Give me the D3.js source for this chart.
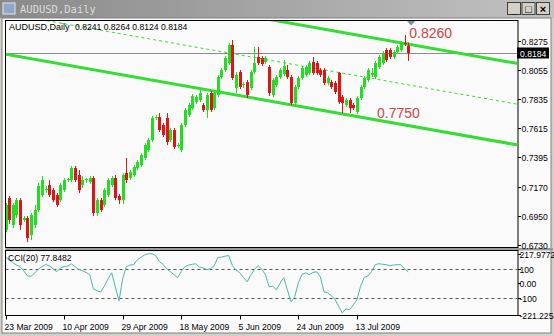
<!DOCTYPE html>
<html>
<head>
<meta charset="utf-8">
<script src="https://cdn.jsdelivr.net/npm/d3@7"></script>
<style>
body { margin: 0; background: #d4d0c8; }
svg { display: block; }
</style>
</head>
<body>
<div id="chart"></div>
<script>
// AUDUSD daily bars, 23 Mar 2009 onwards
const opens = [0.6843,0.7086,0.6881,0.6957,0.7070,0.6919,0.6934,0.6805,0.6881,0.6995,
  0.7108,0.7146,0.7184,0.7146,0.7108,0.7070,0.7146,0.7222,0.7222,0.7313,
  0.7260,0.7184,0.7222,0.7207,0.7237,0.6972,0.7070,0.7033,0.7108,0.7184,
  0.7237,0.7101,0.7070,0.7276,0.7237,0.7260,0.7313,0.7336,0.7389,0.7449,
  0.7525,0.7692,0.7699,0.7639,0.7692,0.7525,0.7601,0.7479,0.7449,0.7639,
  0.7714,0.7767,0.7813,0.7828,0.7790,0.7752,0.7881,0.7767,0.7866,0.8002,
  0.8055,0.8108,0.8245,0.7919,0.8040,0.7942,0.7964,0.7919,0.8040,0.8154,
  0.8146,0.8116,0.8078,0.7866,0.7942,0.8002,0.8025,0.8055,0.8002,0.7805,
  0.7927,0.7995,0.8018,0.8033,0.8116,0.8108,0.8055,0.8055,0.7957,0.7964,
  0.7957,0.8033,0.7851,0.7790,0.7828,0.7790,0.7737,0.7843,0.7927,0.7980,
  0.8018,0.8002,0.8078,0.8108,0.8207,0.8207,0.8154,0.8192,0.8207,0.8260,
  0.8241];
const highs = [0.7048,0.7101,0.7048,0.7086,0.7086,0.6949,0.6949,0.6972,0.7033,0.7200,
  0.7253,0.7177,0.7222,0.7161,0.7123,0.7200,0.7237,0.7237,0.7328,0.7328,
  0.7298,0.7253,0.7237,0.7253,0.7253,0.7086,0.7086,0.7161,0.7237,0.7253,
  0.7260,0.7116,0.7276,0.7389,0.7298,0.7336,0.7374,0.7426,0.7502,0.7540,
  0.7707,0.7714,0.7729,0.7654,0.7729,0.7616,0.7616,0.7502,0.7654,0.7767,
  0.7805,0.7873,0.7866,0.7904,0.7805,0.7881,0.7896,0.7904,0.8018,0.8070,
  0.8161,0.8260,0.8283,0.8040,0.8055,0.7964,0.7980,0.8055,0.8230,0.8230,
  0.8161,0.8161,0.8093,0.7995,0.8018,0.8070,0.8131,0.8093,0.8018,0.7942,
  0.8010,0.8086,0.8093,0.8124,0.8154,0.8124,0.8070,0.8070,0.8010,0.7980,
  0.7972,0.8040,0.7866,0.7843,0.7843,0.7805,0.7858,0.7942,0.8010,0.8070,
  0.8070,0.8124,0.8169,0.8199,0.8222,0.8222,0.8207,0.8245,0.8275,0.8320,
  0.8264];
const lows = [0.6828,0.6889,0.6858,0.6934,0.6843,0.6904,0.6752,0.6767,0.6858,0.6980,
  0.7093,0.7123,0.7093,0.7055,0.7017,0.7055,0.7131,0.7207,0.7207,0.7207,
  0.7123,0.7161,0.7200,0.7192,0.6949,0.6949,0.6980,0.7017,0.7093,0.7169,
  0.7070,0.7040,0.7040,0.7200,0.7222,0.7245,0.7298,0.7321,0.7374,0.7434,
  0.7510,0.7676,0.7586,0.7548,0.7487,0.7510,0.7457,0.7464,0.7434,0.7623,
  0.7699,0.7752,0.7798,0.7813,0.7737,0.7692,0.7737,0.7752,0.7851,0.7987,
  0.8040,0.8093,0.7980,0.7881,0.7911,0.7919,0.7843,0.7904,0.8025,0.8093,
  0.8086,0.8101,0.7858,0.7851,0.7927,0.7987,0.8010,0.7987,0.7790,0.7783,
  0.7911,0.7980,0.8002,0.8018,0.8018,0.8018,0.8002,0.7942,0.7942,0.7911,
  0.7873,0.7798,0.7729,0.7775,0.7729,0.7752,0.7722,0.7828,0.7911,0.7964,
  0.8002,0.7987,0.8063,0.8093,0.8116,0.8139,0.8139,0.8176,0.8192,0.8237,
  0.8124];
const closes = [0.7033,0.6919,0.7033,0.7070,0.6881,0.6934,0.6782,0.6957,0.6995,0.7177,
  0.7222,0.7154,0.7108,0.7070,0.7033,0.7184,0.7222,0.7230,0.7313,0.7222,
  0.7146,0.7222,0.7230,0.7237,0.6972,0.7070,0.6995,0.7146,0.7222,0.7237,
  0.7086,0.7070,0.7260,0.7222,0.7283,0.7321,0.7358,0.7411,0.7487,0.7525,
  0.7692,0.7699,0.7601,0.7563,0.7510,0.7601,0.7472,0.7487,0.7639,0.7752,
  0.7790,0.7858,0.7851,0.7881,0.7752,0.7866,0.7752,0.7881,0.8002,0.8055,
  0.8146,0.8245,0.7995,0.8018,0.7927,0.7949,0.7866,0.8040,0.8108,0.8108,
  0.8101,0.8146,0.7881,0.7980,0.8002,0.8055,0.8086,0.8002,0.7805,0.7927,
  0.7995,0.8070,0.8078,0.8108,0.8033,0.8033,0.8018,0.7957,0.7995,0.7927,
  0.7889,0.7813,0.7805,0.7828,0.7767,0.7767,0.7843,0.7927,0.7995,0.8055,
  0.8033,0.8108,0.8154,0.8184,0.8131,0.8154,0.8192,0.8230,0.8260,0.8252,
  0.8184];
const cci = [180,160,141,125,114,85,50,48,70,98,
  115,128,120,100,79,105,114,118,134,114,
  95,85,75,59,-38,-52,-60,-20,30,72,
  -24,-121,30,114,125,128,160,178,195,203,
  203,190,150,130,100,79,60,38,80,114,
  125,130,134,110,105,93,100,120,176,180,
  186,190,120,90,72,40,10,55,95,121,
  95,60,-24,-20,-45,0,38,-45,-128,-93,
  3,60,72,59,75,79,45,-59,-66,-85,
  -110,-160,-203,-175,-183,-148,-114,-20,40,50,
  80,128,134,130,128,121,125,128,128,100,
  77.8482];

const dateLabels = ["23 Mar 2009","10 Apr 2009","29 Apr 2009","18 May 2009","5 Jun 2009","24 Jun 2009","13 Jul 2009"];
const dateIdx = [0,16,32,48,64,80,96];
const priceTicks = [0.8275,0.8055,0.7835,0.7615,0.7395,0.7170,0.6950,0.6730];
const cciTicks = [217.9772,100,0,-100,-221.225];
const cciTickText = ["217.9772","100","0.00","-100","-221.225"];
const cciLevels = [100,-100];
const lastPrice = 0.8184;
// regression channel: lower edge from bar 0 to bar 140, plus width
const channelFrom = [0, 0.8176], channelTo = [140, 0.7487], channelWidth = 0.0617;
const notes = [{i:110.3, p:0.8298, t:"0.8260"}, {i:101.5, p:0.7692, t:"0.7750"}];

const W = 554, H = 336;
const L = 5.5, R = 518, T = 20.5, B = 247.5, ST = 250.5, SB = 315.5;
const font = "Liberation Sans, Arial, sans-serif";
const bull = "#22dd22", bear = "#dd1515";

const svg = d3.select("#chart").append("svg").attr("width", W).attr("height", H);

// window frame + title bar
svg.append("rect").attr("width", W).attr("height", H).attr("fill", "#d4d0c8");
const grad = svg.append("defs").append("linearGradient").attr("id", "tb");
grad.append("stop").attr("offset", "0").attr("stop-color", "#8a8a8a");
grad.append("stop").attr("offset", "1").attr("stop-color", "#c2c2c2");
svg.append("rect").attr("x", 0).attr("y", 0).attr("width", W).attr("height", 18).attr("fill", "url(#tb)");
svg.append("rect").attr("x", 3).attr("y", 3).attr("width", 12).attr("height", 11).attr("fill", "#8fa8c8").attr("stroke", "#dfe6ef");
svg.append("text").attr("x", 20).attr("y", 13).attr("font-family", "DejaVu Sans Mono, monospace")
  .attr("font-size", 10.5).attr("fill", "#dcdcdc").text("AUDUSD,Daily");
const btns = ["_", "\u25a1", "\u00d7"];
btns.forEach((b, k) => {
  const bx = 507 + k * 14.5;
  svg.append("rect").attr("x", bx + 0.5).attr("y", 2.5).attr("width", 13).attr("height", 12)
    .attr("fill", "#d4d0c8").attr("stroke", "#404040");
  svg.append("text").attr("x", bx + 7).attr("y", 12.5).attr("text-anchor", "middle")
    .attr("font-family", font).attr("font-size", 11).attr("font-weight", "bold").attr("fill", "#000").text(b);
});

// client area
svg.append("rect").attr("x", 2).attr("y", 18).attr("width", 549).attr("height", 315).attr("fill", "#fbfbfb")
  .attr("stroke", "#808080");
svg.append("rect").attr("x", L).attr("y", T).attr("width", R - L).attr("height", B - T)
  .attr("fill", "#fafafa").attr("stroke", "#000");
svg.append("rect").attr("x", L).attr("y", B + 0.5).attr("width", R - L + 35).attr("height", 2.5).attr("fill", "#9a9a9a");
svg.append("rect").attr("x", L).attr("y", ST).attr("width", R - L).attr("height", SB - ST)
  .attr("fill", "#fafafa").attr("stroke", "#000");

const x = d3.scaleLinear().domain([0, 140]).range([L, R]);
const y = d3.scaleLinear().domain([0.6730, 0.8275]).range([245, 41]);
const yc = d3.scaleLinear().domain([-221.225, 217.9772]).range([SB, ST + 1]);

svg.append("clipPath").attr("id", "mainclip").append("rect")
  .attr("x", L + 0.5).attr("y", T + 0.5).attr("width", R - L - 1).attr("height", B - T - 1);
svg.append("clipPath").attr("id", "subclip").append("rect")
  .attr("x", L + 0.5).attr("y", ST + 0.5).attr("width", R - L - 1).attr("height", SB - ST - 1);

const main = svg.append("g").attr("clip-path", "url(#mainclip)");

// current price line
main.append("line").attr("x1", L).attr("x2", R).attr("y1", Math.round(y(lastPrice)) + 0.5).attr("y2", Math.round(y(lastPrice)) + 0.5)
  .attr("stroke", "#8c8c8c").attr("stroke-width", 1);

// channel
const lower = i => channelFrom[1] + (channelTo[1] - channelFrom[1]) * (i - channelFrom[0]) / (channelTo[0] - channelFrom[0]);
[[0, 3, null], [channelWidth, 3, null], [channelWidth / 2, 1, "3,3"]].forEach(([off, w, dash]) => {
  main.append("line")
    .attr("x1", x(channelFrom[0])).attr("y1", y(lower(channelFrom[0]) + off))
    .attr("x2", x(channelTo[0])).attr("y2", y(lower(channelTo[0]) + off))
    .attr("stroke", "#33dd33").attr("stroke-width", w).attr("stroke-dasharray", dash);
});

// candles
const bars = opens.map((o, i) => ({i, o, h: highs[i], l: lows[i], c: closes[i]}));
const cg = main.append("g").selectAll("g").data(bars).join("g");
cg.append("line")
  .attr("x1", d => Math.round(x(d.i)) + 0.5).attr("x2", d => Math.round(x(d.i)) + 0.5)
  .attr("y1", d => y(d.h)).attr("y2", d => y(d.l))
  .attr("stroke", d => d.c >= d.o ? bull : bear).attr("stroke-width", 1);
cg.append("rect")
  .attr("x", d => Math.round(x(d.i)) - 1).attr("width", 3)
  .attr("y", d => y(Math.max(d.o, d.c)))
  .attr("height", d => Math.max(1, Math.abs(y(d.o) - y(d.c))))
  .attr("fill", d => d.c >= d.o ? bull : bear);

// text objects
main.selectAll("text.note").data(notes).join("text").attr("class", "note")
  .attr("x", d => x(d.i)).attr("y", d => y(d.p))
  .attr("font-family", font).attr("font-size", 14).attr("fill", "#cc4444").text(d => d.t);

// chart shift marker
svg.append("path").attr("d", `M${x(110.8) - 4},${T + 0.5} L${x(110.8) + 4},${T + 0.5} L${x(110.8)},${T + 5}Z`).attr("fill", "#7f8c9c");

svg.append("text").attr("x", 9).attr("y", 30).attr("font-family", font).attr("font-size", 9).attr("fill", "#000")
  .text("AUDUSD,Daily");
svg.append("text").attr("x", 75).attr("y", 30).attr("font-family", font).attr("font-size", 8.6).attr("fill", "#000")
  .text(`${opens[110].toFixed(4)} ${highs[110].toFixed(4)} ${lows[110].toFixed(4)} ${closes[110].toFixed(4)}`);

// price axis
const pa = svg.append("g");
priceTicks.forEach(p => {
  const py = Math.round(y(p)) + 0.5;
  pa.append("line").attr("x1", R).attr("x2", R + 3).attr("y1", py).attr("y2", py).attr("stroke", "#000");
  pa.append("text").attr("x", R + 3.5).attr("y", py + 3).attr("font-family", font).attr("font-size", 8.6)
    .attr("fill", "#000").text(p.toFixed(4));
});
const ly = Math.round(y(lastPrice));
pa.append("rect").attr("x", R - 1).attr("y", ly - 5.5).attr("width", 32).attr("height", 11).attr("fill", "#000");
pa.append("text").attr("x", R + 2).attr("y", ly + 3.5).attr("font-family", font).attr("font-size", 8.6)
  .attr("fill", "#fff").text(lastPrice.toFixed(4));

// CCI subwindow
const sub = svg.append("g").attr("clip-path", "url(#subclip)");
cciLevels.forEach(v => {
  sub.append("line").attr("x1", L).attr("x2", R).attr("y1", Math.round(yc(v)) + 0.5).attr("y2", Math.round(yc(v)) + 0.5)
    .attr("stroke", "#555").attr("stroke-dasharray", "3,3");
});
sub.append("path").datum(cci)
  .attr("d", d3.line().x((d, i) => x(i)).y(d => yc(d)))
  .attr("fill", "none").attr("stroke", "#4bb8ac").attr("stroke-width", 1);
svg.append("text").attr("x", 8).attr("y", 261).attr("font-family", font).attr("font-size", 8.6).attr("fill", "#000")
  .text(`CCI(20) ${cci[cci.length - 1].toFixed(4)}`);
cciTicks.forEach((v, k) => {
  const py = Math.round(Math.min(Math.max(yc(v), ST + 3), SB - 1)) + 0.5;
  pa.append("line").attr("x1", R).attr("x2", R + 3).attr("y1", py).attr("y2", py).attr("stroke", "#000");
  pa.append("text").attr("x", R + 1.5).attr("y", py + 3).attr("font-family", font).attr("font-size", 8.6)
    .attr("fill", "#000").text(cciTickText[k]);
});

// time axis
dateIdx.forEach((i, k) => {
  const tx = Math.round(x(i)) + 0.5;
  svg.append("line").attr("x1", tx).attr("x2", tx).attr("y1", SB).attr("y2", SB + 4).attr("stroke", "#000");
  svg.append("text").attr("x", tx - 2).attr("y", 330).attr("font-family", font).attr("font-size", 8.6)
    .attr("fill", "#000").text(dateLabels[k]);
});
</script>
</body>
</html>
